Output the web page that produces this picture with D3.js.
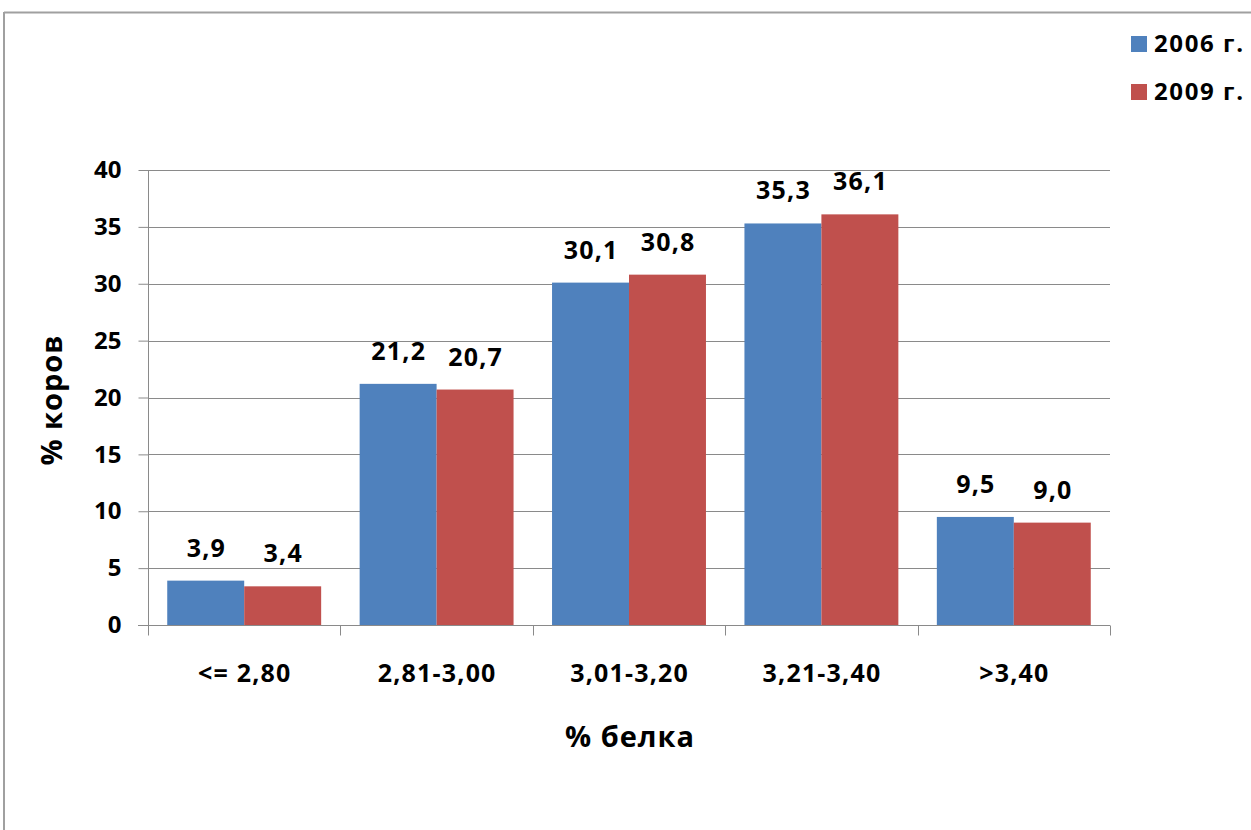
<!DOCTYPE html>
<html><head><meta charset="utf-8">
<script src="https://cdn.jsdelivr.net/npm/d3@7"></script>
<style>
html,body{margin:0;padding:0;background:#fff;}
svg{display:block;}
text{font-family:"Open Sans",sans-serif;font-weight:700;fill:#000;}
</style></head>
<body>
<svg id="c" width="1251" height="830"></svg>
<script>
const categories = ["<= 2,80", "2,81-3,00", "3,01-3,20", "3,21-3,40", ">3,40"];
const seriesNames = ["2006 г.", "2009 г."];
const values2006 = [3.9, 21.2, 30.1, 35.3, 9.5];
const values2009 = [3.4, 20.7, 30.8, 36.1, 9.0];
const yTicks = [0, 5, 10, 15, 20, 25, 30, 35, 40];
const colors = ["#4F81BD", "#C0504D"];

(function () {
const series = [values2006, values2009];
const svg = d3.select("#c");

// outer chart border (top and left visible)
svg.append("line").attr("x1", 4).attr("x2", 1251).attr("y1", 12.5).attr("y2", 12.5)
  .attr("stroke", "#a0a0a0").attr("stroke-width", 2);
svg.append("line").attr("x1", 4).attr("x2", 4).attr("y1", 12).attr("y2", 830)
  .attr("stroke", "#a0a0a0").attr("stroke-width", 2);

const pL = 148, pR = 1110, pT = 170, pB = 625;
const y = d3.scaleLinear().domain([0, 40]).range([pB, pT]);
const x0 = d3.scaleBand().domain(categories).range([pL, pR]).paddingInner(0).paddingOuter(0);
const x1 = d3.scaleBand().domain(seriesNames).range([0, x0.bandwidth()]).paddingInner(0).paddingOuter(0.25);

// gridlines
svg.append("g").selectAll("line").data(yTicks.filter(d => d > 0)).join("line")
  .attr("x1", pL).attr("x2", pR)
  .attr("y1", d => Math.round(y(d)) + 0.5).attr("y2", d => Math.round(y(d)) + 0.5)
  .attr("stroke", "#8a8a8a").attr("stroke-width", 1);

// bars
const g = svg.append("g");
seriesNames.forEach((s, si) => {
  g.selectAll(".b" + si).data(series[si]).join("rect").attr("class", "b" + si)
    .attr("x", (d, i) => x0(categories[i]) + x1(s))
    .attr("y", d => y(d))
    .attr("width", x1.bandwidth())
    .attr("height", d => y(0) - y(d))
    .attr("fill", colors[si]);
  g.selectAll(".l" + si).data(series[si]).join("text").attr("class", "l" + si)
    .attr("x", (d, i) => x0(categories[i]) + x1(s) + x1.bandwidth() / 2 + 0.6)
    .attr("y", d => y(d) - 24)
    .attr("text-anchor", "middle")
    .attr("font-size", 25)
    .attr("letter-spacing", 1.2)
    .text(d => d.toFixed(1).replace(".", ","));
});

// y axis
const yAxis = d3.axisLeft(y).tickValues(yTicks).tickSize(10).tickPadding(17).tickFormat(d => d);
const ya = svg.append("g").attr("transform", `translate(${pL + 0.5},0)`).call(yAxis);
ya.select(".domain").attr("stroke", "#8a8a8a").attr("d", `M0,${pT}V${pB}`);
ya.selectAll(".tick line").attr("stroke", "#8a8a8a");
ya.selectAll(".tick text").attr("font-size", 24).attr("font-family", "Open Sans").attr("font-weight", 700).attr("fill", "#000");

// x axis
const xa = svg.append("g").attr("transform", `translate(0,${pB + 0.5})`);
xa.append("line").attr("x1", pL - 10).attr("x2", pR).attr("y1", 0).attr("y2", 0).attr("stroke", "#8a8a8a");
const bounds = categories.map(c => x0(c)).concat([pR]);
xa.selectAll(".xt").data(bounds).join("line").attr("class", "xt")
  .attr("x1", d => Math.round(d) + 0.5).attr("x2", d => Math.round(d) + 0.5)
  .attr("y1", 0).attr("y2", 10).attr("stroke", "#8a8a8a");
xa.selectAll(".xl").data(categories).join("text").attr("class", "xl")
  .attr("x", d => x0(d) + x0.bandwidth() / 2 + 0.6)
  .attr("y", 56)
  .attr("text-anchor", "middle")
  .attr("font-size", 25)
  .attr("letter-spacing", 1.2)
  .text(d => d);

// axis titles
svg.append("text").attr("x", 630).attr("y", 747).attr("text-anchor", "middle")
  .attr("font-size", 29).attr("letter-spacing", 1).text("% белка");
svg.append("text").attr("transform", "translate(62,400) rotate(-90)").attr("text-anchor", "middle")
  .attr("font-size", 29).attr("letter-spacing", 1).text("% коров");

// legend
const lg = svg.append("g");
seriesNames.forEach((s, i) => {
  const cy = 44 + i * 48;
  lg.append("rect").attr("x", 1131).attr("y", cy - 8).attr("width", 16).attr("height", 16).attr("fill", colors[i]);
  lg.append("text").attr("x", 1154).attr("y", cy + 8).attr("font-size", 24).attr("letter-spacing", 1.6).text(s);
});
})();
</script>
</body></html>
